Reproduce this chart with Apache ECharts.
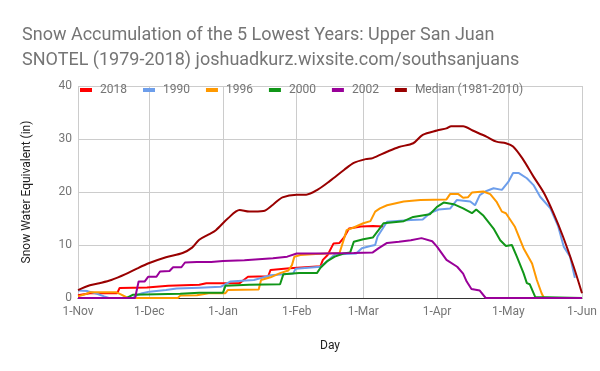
<!DOCTYPE html>
<html>
<head>
<meta charset="utf-8">
<script src="https://cdn.jsdelivr.net/npm/echarts@6/dist/echarts.min.js"></script>
<style>html,body{margin:0;padding:0;background:#fff}#c{width:600px;height:371px}</style>
</head>
<body>
<div id="c"></div>
<script>
// x = days since 1-Nov, y = snow water equivalent (in)
const tickDays = [0, 30, 61, 92, 120, 151, 181, 212];
const tickLabels = ['1-Nov', '1-Dec', '1-Jan', '1-Feb', '1-Mar', '1-Apr', '1-May', '1-Jun'];
const seriesNames = ['2018', '1990', '1996', '2000', '2002', 'Median (1981-2010)'];

const y2018 = [[0,0.5],[5,0.9],[16.5,0.9],[17.5,1.9],[29,2.0],[38,2.3],[51,2.5],[54,2.8],[68,2.8],[70,3.5],[71.5,4.0],[80,4.1],[81,5.3],[89,5.6],[102,6.0],[103,7.2],[105,8.1],[107.5,10.3],[110,10.4],[112,11.5],[114,13.1],[119,13.5],[124,13.6],[128.5,13.5]];
const y1990 = [[0,1.4],[4,1.3],[8,0.8],[11,0.3],[13,0],[23,0],[25,0.6],[27,0.9],[30,1.2],[37,1.5],[41.5,1.8],[51,1.95],[60,2.1],[64,3.1],[74,3.4],[79,4.0],[81,4.3],[90.5,4.6],[91.5,5.5],[102,5.9],[104.7,6.9],[108,8.2],[117,8.4],[119.4,9.4],[123,9.8],[125,10],[126,11.6],[130,14.4],[140,14.7],[145,14.8],[148,16],[151.7,16.7],[156.6,16.9],[159.4,18.5],[165,18.2],[167,17.5],[169,19.4],[171.3,20.1],[174.8,20.7],[178.3,20.4],[181,21.9],[183,23.6],[185.3,23.6],[188.8,22.6],[191.6,21.3],[194.4,19.1],[198.7,16.9],[202,13.5],[204.3,9.7],[207,7.8],[209,3.8]];
const y1996 = [[0,0.3],[3,0.7],[5,1.1],[16,1.1],[18,0.7],[21,0],[42,0],[43,0.45],[50,0.5],[55,0.9],[62,0.9],[63,1.5],[76,1.6],[77,3.4],[81,3.9],[85,4.7],[88.5,5.2],[90,6.2],[91,7.8],[93.5,8.1],[100,8.3],[110,8.5],[111.7,10.9],[113,12.8],[116,13.3],[120,14.1],[123,14.5],[125,16.3],[127,16.9],[130,17.5],[137,18.2],[144,18.5],[155,18.6],[156.5,19.6],[160,19.6],[162,18.9],[164,19.0],[165.7,19.9],[170.5,20.1],[173.4,19.6],[176,18.2],[178.3,16.3],[180,16],[183.7,13.5],[187.4,9.4],[191,6.5],[193,3.4],[195,0.9],[196,0],[212,0]];
const y2000 = [[0,0],[20.5,0],[23,0.6],[43,0.8],[51,1.0],[61,1.0],[62,2.3],[72,2.5],[85,2.6],[86.4,4.5],[93,4.7],[100.5,4.7],[102,5.7],[104.7,6.9],[108,7.8],[111.7,8.4],[114.5,8.6],[116,10.6],[120,11.1],[124,11.4],[126.4,12.8],[128.5,14.1],[137,14.5],[141,15.3],[148,15.8],[151,17.2],[153.8,18.0],[158,17.7],[162,16.9],[165.7,16],[167.5,16.7],[170.6,15.5],[174.8,13.1],[177.6,10.9],[180,9.8],[182.5,10],[184.6,7.8],[187.4,4.7],[188.8,2.8],[190,2.6],[192.3,0.2],[193,0],[212,0]];
const y2002 = [[0,0],[24,0],[25.5,3.1],[28,3.1],[29.5,4.0],[33,4.0],[34.5,5.0],[38.5,5.1],[40,5.8],[43.5,5.8],[45,6.7],[50,6.8],[56,6.8],[61,7.0],[70,7.1],[76,7.3],[82,7.5],[88,7.8],[92,8.4],[102,8.4],[116,8.5],[124,8.6],[126.5,9.4],[130,10.4],[135,10.6],[140,10.9],[144.5,11.3],[149,10.7],[151,9.7],[155,7.2],[159.5,5.9],[162,4.6],[163.5,3.1],[165.5,1.7],[169,1.4],[171.5,0],[212,0]];
const yMedian = [[0,1.5],[5,2.4],[9,2.8],[14,3.4],[20,4.5],[25,5.6],[30,6.6],[37,7.7],[44,8.5],[48,9.5],[51,11],[55,12],[58,12.8],[63,15],[68,16.6],[72,16.3],[78,16.4],[82,17.6],[86,19],[92,19.5],[96,19.5],[101,20.5],[106,22.1],[112,24.2],[116,25.5],[121,26.2],[124,26.4],[130,27.6],[135,28.5],[141,29.2],[145,30.8],[151,31.6],[155,32],[157,32.4],[162,32.4],[166,31.6],[172,30.4],[176,29.5],[180,29.2],[183,28.6],[187,26.3],[191.6,22.9],[196,19.8],[200,16],[204,11.6],[208.5,5.9],[212,0.9]];

const colors = ['#ff0000', '#6d9eeb', '#ff9900', '#109618', '#990099', '#990000'];
const allData = [y2018, y1990, y1996, y2000, y2002, yMedian];

const chart = echarts.init(document.getElementById('c'), null, {renderer: 'canvas'});
chart.setOption({
  animation: false,
  color: colors,
  textStyle: {fontFamily: 'Roboto'},
  title: {
    text: 'Snow Accumulation of the 5 Lowest Years: Upper San Juan\nSNOTEL (1979-2018) joshuadkurz.wixsite.com/southsanjuans',
    left: 17, top: 18,
    textStyle: {fontFamily: 'Roboto', fontSize: 18, fontWeight: 'normal', color: '#757575', lineHeight: 25}
  },
  legend: {
    data: seriesNames,
    left: 75, top: 79,
    icon: 'rect', itemWidth: 12, itemHeight: 4, itemGap: 16,
    textStyle: {fontFamily: 'Roboto', fontSize: 12, color: '#757575', padding: [0, 0, 0, 3]}
  },
  grid: {left: 78, right: 18, top: 86, bottom: 73, containLabel: false},
  xAxis: {
    type: 'value', min: 0, max: 212,
    name: 'Day', nameLocation: 'middle', nameGap: 42,
    nameTextStyle: {fontFamily: 'Roboto', fontSize: 12, color: '#222'},
    axisLine: {show: true, lineStyle: {color: '#333', width: 1}},
    axisTick: {show: false, customValues: tickDays},
    axisLabel: {customValues: tickDays, color: '#757575', fontSize: 12, margin: 8,
      formatter: v => tickLabels[tickDays.indexOf(v)]},
    splitLine: {show: true, lineStyle: {color: '#cccccc', width: 1}}
  },
  yAxis: {
    type: 'value', min: 0, max: 40, interval: 10,
    name: 'Snow Water Equivalent (in)', nameLocation: 'middle', nameGap: 45,
    nameTextStyle: {fontFamily: 'Roboto', fontSize: 12, color: '#222'},
    axisLine: {show: false}, axisTick: {show: false},
    axisLabel: {color: '#757575', fontSize: 12, margin: 6},
    splitLine: {lineStyle: {color: '#cccccc', width: 1}}
  },
  series: allData.map((d, i) => ({
    name: seriesNames[i], type: 'line', data: d, showSymbol: false, symbol: 'none',
    smooth: i === 5 ? 0.3 : false,
    lineStyle: {width: 2, color: colors[i]}, z: 2 + i
  }))
});
</script>
</body>
</html>
